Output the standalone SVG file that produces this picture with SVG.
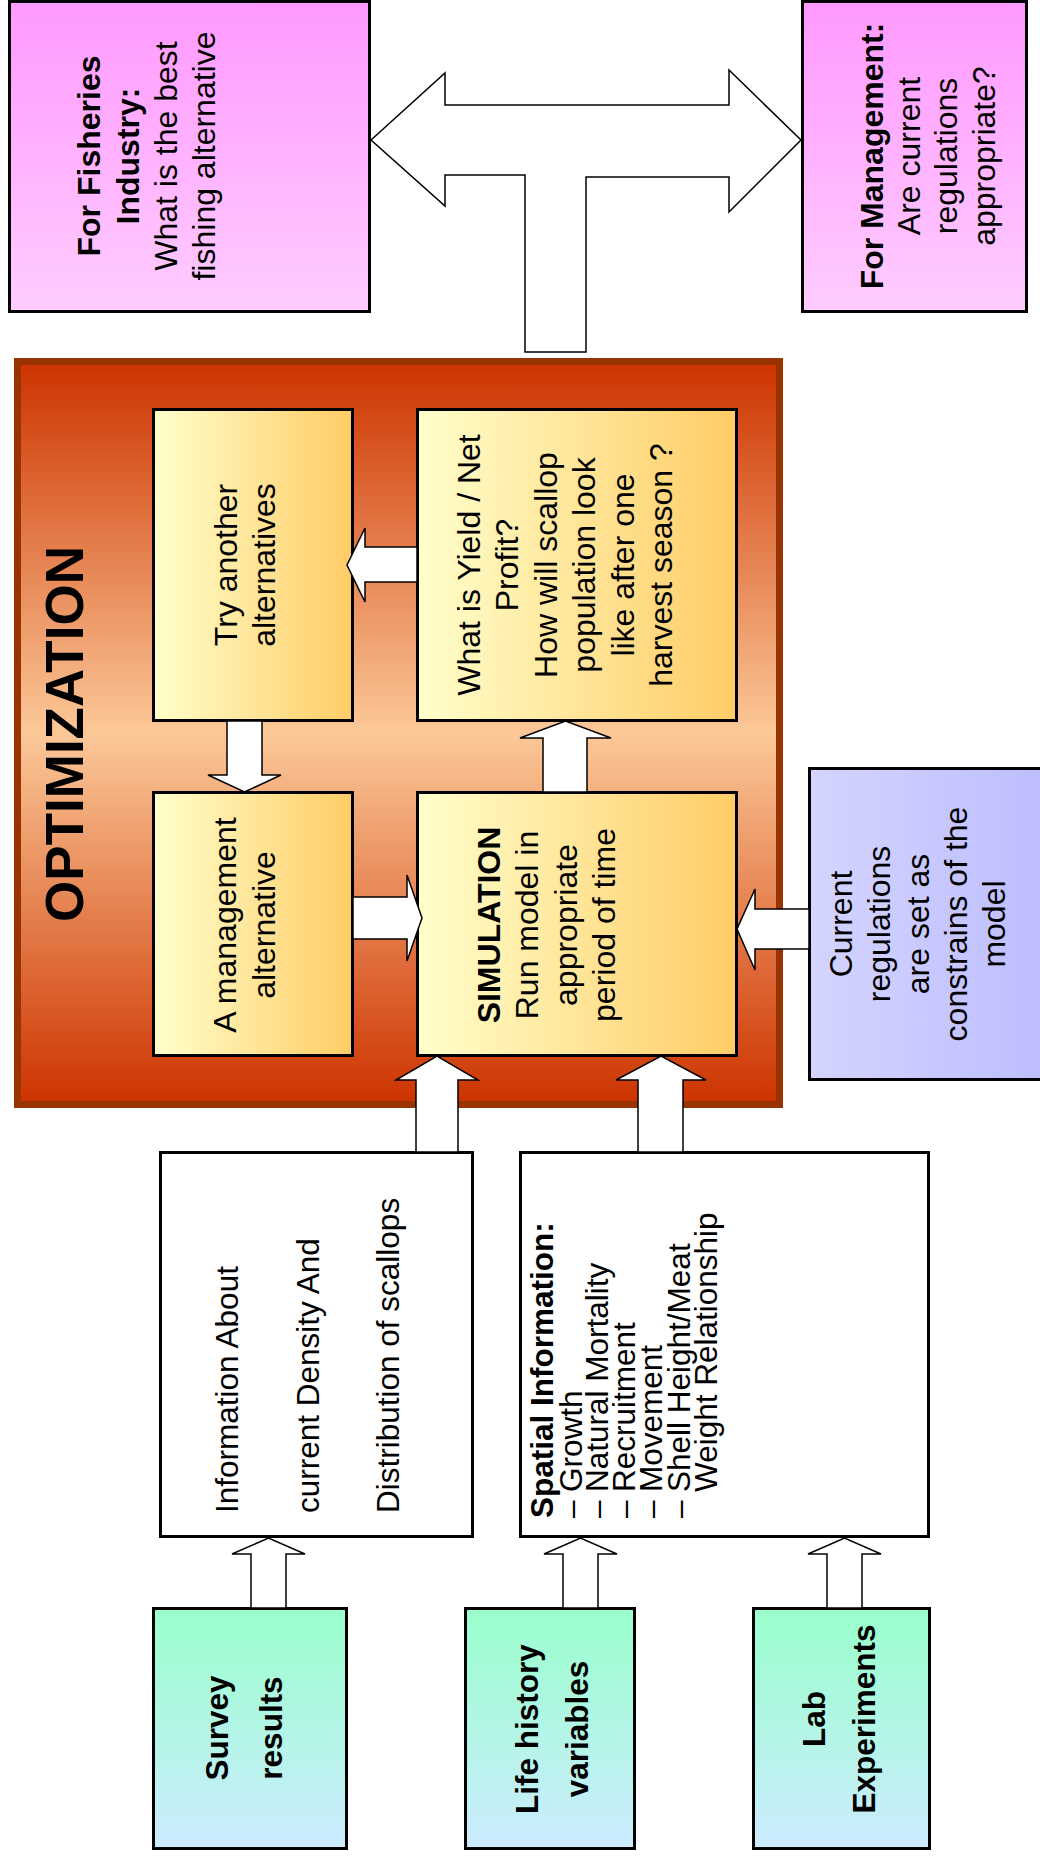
<svg xmlns="http://www.w3.org/2000/svg" width="1040" height="1860" viewBox="0 0 1040 1860">
<defs>
<linearGradient id="gPink" x1="0" y1="0" x2="0" y2="1"><stop offset="0" stop-color="#FF99FF"/><stop offset="1" stop-color="#FFCCFF"/></linearGradient>
<linearGradient id="gOpt" x1="0" y1="0" x2="0" y2="1"><stop offset="0" stop-color="#CC3300"/><stop offset="0.5" stop-color="#FCC898"/><stop offset="1" stop-color="#CC3300"/></linearGradient>
<linearGradient id="gYel" x1="0" y1="0" x2="1" y2="0"><stop offset="0" stop-color="#FFFFCC"/><stop offset="1" stop-color="#FFCC66"/></linearGradient>
<linearGradient id="gGreen" x1="0" y1="0" x2="0" y2="1"><stop offset="0" stop-color="#99FFCC"/><stop offset="1" stop-color="#CCECFF"/></linearGradient>
<linearGradient id="gPurple" x1="0" y1="0" x2="1" y2="0"><stop offset="0" stop-color="#D4D4FF"/><stop offset="1" stop-color="#BDBDFF"/></linearGradient>
</defs>
<style>
.box{stroke:#000;stroke-width:3}
.arr{fill:#fff;stroke:#000;stroke-width:1.5;stroke-linejoin:miter}
text{font-family:"Liberation Sans",Arial,sans-serif;font-size:32px;fill:#000}
.b{font-weight:bold}
.m{text-anchor:middle}
.s{text-anchor:start}
.sm{font-size:31.5px}
</style>
<rect width="1040" height="1860" fill="#fff"/>

<g id="fisheries">
<rect class="box" x="9.5" y="1.5" width="360" height="310" fill="url(#gPink)"/>
<g transform="rotate(-90)" class="m">
<text class="b m" x="-156" y="100">For Fisheries</text>
<text class="b m" x="-156" y="139">Industry:</text>
<text class="m" x="-156" y="177">What is the best</text>
<text class="m" x="-156" y="215">fishing alternative</text>
</g>
</g>

<g id="management">
<rect class="box" x="802.5" y="1.5" width="224" height="310" fill="url(#gPink)"/>
<g transform="rotate(-90)">
<text class="b m" x="-156" y="883">For Management:</text>
<text class="m" x="-156" y="920">Are current</text>
<text class="m" x="-156" y="957">regulations</text>
<text class="m" x="-156" y="995">appropriate?</text>
</g>
</g>

<g id="optimization">
<rect x="17.5" y="361.5" width="762" height="743" fill="url(#gOpt)" stroke="#993300" stroke-width="7"/>
<text class="b m" transform="rotate(-90)" x="-734" y="83" style="font-size:53px">OPTIMIZATION</text>
</g>

<g id="try-another">
<rect class="box" x="153.5" y="409.5" width="199" height="311" fill="url(#gYel)"/>
<g transform="rotate(-90)">
<text class="m" x="-565" y="237">Try another</text>
<text class="m" x="-565" y="275">alternatives</text>
</g>
</g>

<g id="yield">
<rect class="box" x="417.5" y="409.5" width="319" height="311" fill="url(#gYel)"/>
<g transform="rotate(-90)">
<text class="m" x="-565" y="480">What is Yield / Net</text>
<text class="m" x="-565" y="518">Profit?</text>
<text class="m" x="-565" y="557">How will scallop</text>
<text class="m" x="-565" y="595">population look</text>
<text class="m" x="-565" y="634">like after one</text>
<text class="m" x="-565" y="672">harvest season ?</text>
</g>
</g>

<g id="management-alternative">
<rect class="box" x="153.5" y="792.5" width="199" height="263" fill="url(#gYel)"/>
<g transform="rotate(-90)">
<text class="m" x="-925" y="236">A management</text>
<text class="m" x="-925" y="275">alternative</text>
</g>
</g>

<g id="simulation">
<rect class="box" x="417.5" y="792.5" width="319" height="263" fill="url(#gYel)"/>
<g transform="rotate(-90)">
<text class="b m" x="-925" y="500">SIMULATION</text>
<text class="m" x="-925" y="538">Run model in</text>
<text class="m" x="-925" y="577">appropriate</text>
<text class="m" x="-925" y="615">period of time</text>
</g>
</g>

<g id="current-regulations">
<rect class="box" x="809.5" y="768.5" width="240" height="311" fill="url(#gPurple)"/>
<g transform="rotate(-90)">
<text class="m" x="-924" y="852">Current</text>
<text class="m" x="-924" y="890">regulations</text>
<text class="m" x="-924" y="929">are set as</text>
<text class="m" x="-924" y="967">constrains of the</text>
<text class="m" x="-924" y="1005">model</text>
</g>
</g>

<g id="information">
<rect class="box" x="160.5" y="1152.5" width="312" height="384" fill="#fff"/>
<g transform="rotate(-90)">
<text class="s sm" x="-1513" y="238">Information About</text>
<text class="s sm" x="-1513" y="319">current Density And</text>
<text class="s sm" x="-1513" y="399">Distribution of scallops</text>
</g>
</g>

<g id="spatial">
<rect class="box" x="520.5" y="1152.5" width="408" height="384" fill="#fff"/>
<g transform="rotate(-90)">
<text class="b s sm" x="-1518" y="553">Spatial Information:</text>
<text class="s sm" x="-1518" y="582">–</text>
<text class="s sm" x="-1518" y="608">–</text>
<text class="s sm" x="-1518" y="635">–</text>
<text class="s sm" x="-1518" y="662">–</text>
<text class="s sm" x="-1518" y="690">–</text>
<text class="s sm" x="-1492" y="582">Growth</text>
<text class="s sm" x="-1492" y="608">Natural Mortality</text>
<text class="s sm" x="-1492" y="635">Recruitment</text>
<text class="s sm" x="-1492" y="662">Movement</text>
<text class="s sm" x="-1492" y="690">Shell Height/Meat</text>
<text class="s sm" x="-1492" y="717">Weight Relationship</text>
</g>
</g>

<g id="survey">
<rect class="box" x="153.5" y="1608.5" width="193" height="240" fill="url(#gGreen)"/>
<g transform="rotate(-90)">
<text class="b m sm" x="-1728" y="228">Survey</text>
<text class="b m sm" x="-1728" y="282">results</text>
</g>
</g>

<g id="life-history">
<rect class="box" x="465.5" y="1608.5" width="169" height="240" fill="url(#gGreen)"/>
<g transform="rotate(-90)">
<text class="b m sm" x="-1729" y="538">Life history</text>
<text class="b m sm" x="-1729" y="588">variables</text>
</g>
</g>

<g id="lab">
<rect class="box" x="753.5" y="1608.5" width="176" height="240" fill="url(#gGreen)"/>
<g transform="rotate(-90)">
<text class="b m sm" x="-1719" y="825">Lab</text>
<text class="b m sm" x="-1719" y="875">Experiments</text>
</g>
</g>

<g id="connectors">
<path class="arr" d="M371,140 L445,73 L445,105 L729,105 L729,70 L801,140 L729,212 L729,177 L586,177 L586,352 L525,352 L525,175 L445,175 L445,206 Z"/>
<path class="arr" d="M417,547 L365,547 L365,528 L347,565 L365,602 L365,582 L417,582 Z"/>
<path class="arr" d="M227,721 L227,775 L208,775 L244.5,792 L281,775 L262,775 L262,721 Z"/>
<path class="arr" d="M543,792 L543,738 L520,738 L565.5,721 L611,738 L587,738 L587,792 Z"/>
<path class="arr" d="M353,897 L407,897 L407,875 L422,918 L407,961 L407,939 L353,939 Z"/>
<path class="arr" d="M809,909 L755,909 L755,889 L737,929 L755,970 L755,949 L809,949 Z"/>
<path class="arr" d="M416,1152 L416,1080 L396,1080 L437,1056 L478,1080 L458,1080 L458,1152 Z"/>
<path class="arr" d="M638,1152 L638,1080 L616,1080 L661,1056 L706,1080 L683,1080 L683,1152 Z"/>
<path class="arr" d="M251,1608 L251,1554 L232,1554 L268.5,1538 L305,1554 L286,1554 L286,1608 Z"/>
<path class="arr" d="M563,1608 L563,1554 L544,1554 L580.5,1538 L617,1554 L598,1554 L598,1608 Z"/>
<path class="arr" d="M827,1608 L827,1554 L808,1554 L844.5,1538 L881,1554 L862,1554 L862,1608 Z"/>
</g>
</svg>
